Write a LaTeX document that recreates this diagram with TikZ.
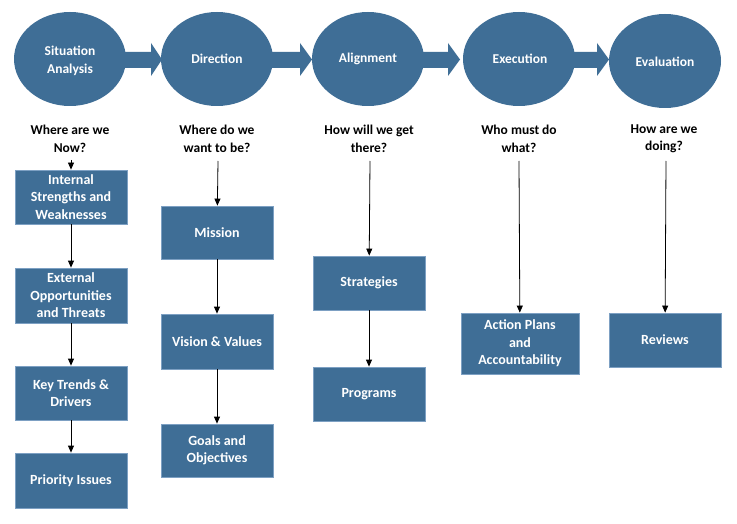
\documentclass[tikz,border=0pt]{standalone}
\usepackage{fontspec}
\setmainfont{Carlito}
\usetikzlibrary{arrows.meta}
\definecolor{sblue}{RGB}{63,110,150}
\definecolor{sedge}{RGB}{125,160,195}
\tikzset{
  ques/.style={font=\bfseries\fontsize{13.5}{17.5}\selectfont, align=center, text=black, inner sep=0pt},
  phasetext/.style={font=\bfseries\fontsize{13.5}{17.5}\selectfont, align=center, text=white, inner sep=0pt},
  stepbox/.style={rectangle, fill=sblue, draw=sedge, line width=0.8pt, text=white, font=\bfseries\fontsize{14}{17.5}\selectfont, align=center, inner sep=0pt},
  conn/.style={draw=black, line width=0.8pt, -{Triangle[length=7pt,width=6pt]}},
  blockarrow/.style={fill=sblue}
}
\begin{document}
\begin{tikzpicture}[x=1pt,y=-1pt]
\useasboundingbox (0,0) rectangle (737,524);
\fill[white] (0,0) rectangle (737,524);
% block arrows
\fill[blockarrow] (115,52) -- (151,52) -- (151,43) -- (162,59.5) -- (151,76) -- (151,68) -- (115,68) -- cycle;
\fill[blockarrow] (262,52) -- (300,52) -- (300,43) -- (312,59.5) -- (300,76) -- (300,68) -- (262,68) -- cycle;
\fill[blockarrow] (415,52) -- (448,52) -- (448,43) -- (460,59.5) -- (448,76) -- (448,68) -- (415,68) -- cycle;
\fill[blockarrow] (565,52) -- (597,52) -- (597,43) -- (609,59.5) -- (597,76) -- (597,68) -- (565,68) -- cycle;
% ellipses
\path[fill=sblue] (70,59) ellipse [x radius=56, y radius=47];
\path[fill=sblue] (217,59) ellipse [x radius=56, y radius=47];
\path[fill=sblue] (368,59) ellipse [x radius=56, y radius=47];
\path[fill=sblue] (519,59) ellipse [x radius=56, y radius=47];
\path[fill=sblue] (665,61) ellipse [x radius=56, y radius=47];
\node[phasetext] (e1) at (70,61) {Situation\\Analysis};
\node[phasetext] (e2) at (217,59) {Direction};
\node[phasetext] (e3) at (368,59) {Alignment};
\node[phasetext] (e4) at (520,59) {Execution};
\node[phasetext] (e5) at (665,62) {Evaluation};
% questions
\node[ques] (q1) at (70,139) {Where are we\\Now?};
\node[ques] (q2) at (217,139) {Where do we\\want to be?};
\node[ques] (q3) at (369,139) {How will we get\\there?};
\node[ques] (q4) at (519,139) {Who must do\\what?};
\node[ques] (q5) at (664,139) {How are we\\doing?};
\coordinate (s1) at (71,160);
\coordinate (s2) at (218,161);
\coordinate (s3) at (370,161);
\coordinate (s4) at (519,161);
\coordinate (s5) at (666,161);
% column 1
\node[stepbox, minimum width=112pt, minimum height=54pt] (b11) at (71,197) {Internal\\Strengths and\\Weaknesses};
\node[stepbox, minimum width=112pt, minimum height=55pt] (b12) at (71,295.5) {External\\Opportunities\\and Threats};
\node[stepbox, minimum width=112pt, minimum height=54pt] (b13) at (71,393) {Key Trends \&\\Drivers};
\node[stepbox, minimum width=112pt, minimum height=55pt] (b14) at (71,480.5) {Priority Issues};
% column 2
\node[stepbox, minimum width=112pt, minimum height=53pt] (b21) at (217,232.5) {Mission};
\node[stepbox, minimum width=112pt, minimum height=55pt] (b22) at (217,341.5) {Vision \& Values};
\node[stepbox, minimum width=112pt, minimum height=53pt] (b23) at (217,450.5) {Goals and\\Objectives};
% column 3
\node[stepbox, minimum width=112pt, minimum height=54pt] (b31) at (369,283) {Strategies};
\node[stepbox, minimum width=112pt, minimum height=54pt] (b32) at (369,394) {Programs};
% column 4
\node[stepbox, minimum width=118pt, minimum height=61pt] (b41) at (520,343.5) {Action Plans\\and\\Accountability};
% column 5
\node[stepbox, minimum width=112pt, minimum height=54pt] (b51) at (665,340) {Reviews};
% connectors
\draw[conn] (s1) -- (b11);
\draw[conn] (b11) -- (b12);
\draw[conn] (b12) -- (b13);
\draw[conn] (b13) -- (b14);
\draw[conn] (s2) -- (b21);
\draw[conn] (b21) -- (b22);
\draw[conn] (b22) -- (b23);
\draw[conn] (s3) -- (b31);
\draw[conn] (b31) -- (b32);
\draw[conn] (s4) -- (b41);
\draw[conn] (s5) -- (b51);
\end{tikzpicture}
\end{document}
